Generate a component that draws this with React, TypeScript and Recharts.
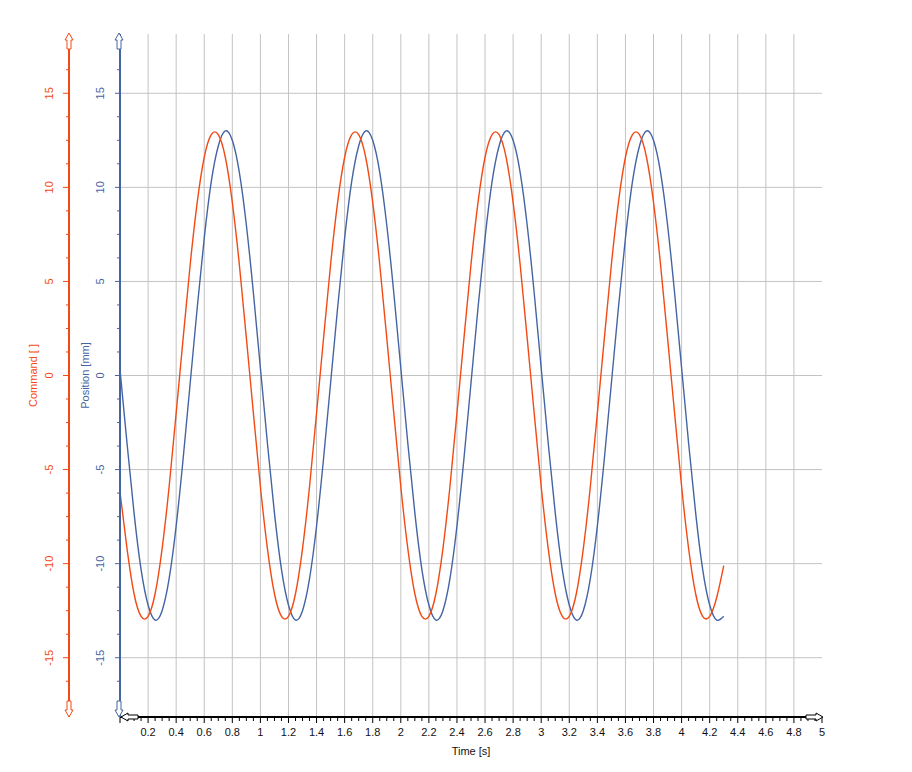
import { CartesianGrid, Line, LineChart, XAxis, YAxis } from 'recharts'

const TIME = [
  0, 0.05, 0.1, 0.15, 0.2, 0.25, 0.3, 0.35, 0.4, 0.45, 0.5, 0.55, 0.6, 0.65, 0.7, 0.75, 0.8, 0.85, 0.9, 0.95,
  1, 1.05, 1.1, 1.15, 1.2, 1.25, 1.3, 1.35, 1.4, 1.45, 1.5, 1.55, 1.6, 1.65, 1.7, 1.75, 1.8, 1.85, 1.9, 1.95,
  2, 2.05, 2.1, 2.15, 2.2, 2.25, 2.3, 2.35, 2.4, 2.45, 2.5, 2.55, 2.6, 2.65, 2.7, 2.75, 2.8, 2.85, 2.9, 2.95,
  3, 3.05, 3.1, 3.15, 3.2, 3.25, 3.3, 3.35, 3.4, 3.45, 3.5, 3.55, 3.6, 3.65, 3.7, 3.75, 3.8, 3.85, 3.9, 3.95,
  4, 4.05, 4.1, 4.15, 4.2, 4.25, 4.3,
]

const COMMAND = [
  -6.2, -9.2, -11.6, -12.8, -12.8, -11.6, -9.2, -5.9, -2.0, 2.0, 5.9, 9.2, 11.6, 12.8, 12.8, 11.6, 9.2, 5.9, 2.0, -2.0,
  -5.9, -9.2, -11.6, -12.8, -12.8, -11.6, -9.2, -5.9, -2.0, 2.0, 5.9, 9.2, 11.6, 12.8, 12.8, 11.6, 9.2, 5.9, 2.0, -2.0,
  -5.9, -9.2, -11.6, -12.8, -12.8, -11.6, -9.2, -5.9, -2.0, 2.0, 5.9, 9.2, 11.6, 12.8, 12.8, 11.6, 9.2, 5.9, 2.0, -2.0,
  -5.9, -9.2, -11.6, -12.8, -12.8, -11.6, -9.2, -5.9, -2.0, 2.0, 5.9, 9.2, 11.6, 12.8, 12.8, 11.6, 9.2, 5.9, 2.0, -2.0,
  -5.9, -9.2, -11.6, -12.8, -12.8, -11.8, -10.1,
]

const POSITION = [
  0.3, -3.6, -7.3, -10.3, -12.2, -13.0, -12.5, -10.8, -8.0, -4.4, -0.4, 3.6, 7.3, 10.3, 12.2, 13.0, 12.5, 10.8, 8.0, 4.4,
  0.4, -3.6, -7.3, -10.3, -12.2, -13.0, -12.5, -10.8, -8.0, -4.4, -0.4, 3.6, 7.3, 10.3, 12.2, 13.0, 12.5, 10.8, 8.0, 4.4,
  0.4, -3.6, -7.3, -10.3, -12.2, -13.0, -12.5, -10.8, -8.0, -4.4, -0.4, 3.6, 7.3, 10.3, 12.2, 13.0, 12.5, 10.8, 8.0, 4.4,
  0.4, -3.6, -7.3, -10.3, -12.2, -13.0, -12.5, -10.8, -8.0, -4.4, -0.4, 3.6, 7.3, 10.3, 12.2, 13.0, 12.5, 10.8, 8.0, 4.4,
  0.4, -3.6, -7.3, -10.3, -12.2, -13.0, -12.8,
]

const X_LABELS = [
  0.2, 0.4, 0.6, 0.8, 1, 1.2, 1.4, 1.6, 1.8, 2, 2.2, 2.4, 2.6, 2.8, 3, 3.2, 3.4, 3.6, 3.8, 4, 4.2, 4.4, 4.6, 4.8, 5,
]
const X_GRID = X_LABELS.filter((v) => v < 5)
const Y_LABELS = [-15, -10, -5, 0, 5, 10, 15]

// minor ticks: 0.05 s on time, 1.25 on the value axes
const X_TICKS = Array.from({ length: 101 }, (_, i) => i / 20)
const Y_TICKS = Array.from({ length: 27 }, (_, i) => -16.25 + i * 1.25)

const data = TIME.map((t, i) => ({ t, command: COMMAND[i], position: POSITION[i] }))

const W = 912
const H = 772
const MARGIN = { top: 34, right: 90, bottom: 15, left: 9 }
const CMD_AXIS_W = 60
const POS_AXIS_W = 51
const X_AXIS_H = 40
const Y_MAX = 18.15

// axis ids: the inner (position) axis must sort first
const POS_ID = 'a_pos'
const CMD_ID = 'b_cmd'

const PLOT_LEFT = MARGIN.left + CMD_AXIS_W + POS_AXIS_W
const PLOT_RIGHT = W - MARGIN.right
const PLOT_BOTTOM = H - MARGIN.bottom - X_AXIS_H
const CMD_X = MARGIN.left + CMD_AXIS_W

const ORANGE = '#F24A14'
const BLUE = '#4464A4'
const GRID = '#C3C3C3'
const FONT = '"Liberation Sans", Arial, sans-serif'

const isMajorX = (v: number) => Math.abs(v * 5 - Math.round(v * 5)) < 1e-6

function TimeTick({ x, y, payload }: any) {
  const v = payload.value as number
  const major = isMajorX(v)
  return (
    <g>
      <line x1={x} x2={x} y1={y} y2={y + (major ? 6 : 4)} stroke="#000" strokeWidth={1} />
      {major && v > 0 && (
        <text x={x} y={y + 19} textAnchor="middle" fontSize={11} fontFamily={FONT} fill="#111">
          {String(Math.round(v * 10) / 10)}
        </text>
      )}
    </g>
  )
}

function ValueTick({ x, y, payload, color, majorLen }: any) {
  const v = payload.value as number
  const major = Math.abs(v % 5) < 1e-6
  const lx = x - 20
  return (
    <g>
      <line x1={x - (major ? majorLen : 3)} x2={x} y1={y} y2={y} stroke={color} strokeWidth={1} />
      {major && (
        <text
          x={lx}
          y={y}
          transform={`rotate(-90 ${lx} ${y})`}
          textAnchor="middle"
          dominantBaseline="central"
          fontSize={11}
          fontFamily={FONT}
          fill={color}
        >
          {v}
        </text>
      )}
    </g>
  )
}

function AxisTitle({ viewBox, text, color, dx }: any) {
  const cx = viewBox.x + viewBox.width - dx
  const cy = viewBox.y + viewBox.height / 2
  return (
    <text
      x={cx}
      y={cy}
      transform={`rotate(-90 ${cx} ${cy})`}
      textAnchor="middle"
      dominantBaseline="central"
      fontSize={11}
      fontFamily={FONT}
      fill={color}
    >
      {text}
    </text>
  )
}

function TimeTitle({ viewBox }: any) {
  return (
    <text
      x={viewBox.x + viewBox.width / 2}
      y={viewBox.y + 38}
      textAnchor="middle"
      fontSize={11}
      fontFamily={FONT}
      fill="#111"
    >
      Time [s]
    </text>
  )
}

// hollow arrow heads at the axis ends
const up = (cx: number, ty: number) =>
  `${cx},${ty} ${cx + 4},${ty + 7} ${cx + 2},${ty + 7} ${cx + 2},${ty + 16} ${cx - 2},${ty + 16} ${cx - 2},${ty + 7} ${cx - 4},${ty + 7}`
const down = (cx: number, by: number) =>
  `${cx},${by} ${cx + 4},${by - 7} ${cx + 2},${by - 7} ${cx + 2},${by - 16} ${cx - 2},${by - 16} ${cx - 2},${by - 7} ${cx - 4},${by - 7}`
const right = (tx: number, cy: number) =>
  `${tx},${cy} ${tx - 7},${cy - 4} ${tx - 7},${cy - 2} ${tx - 17},${cy - 2} ${tx - 17},${cy + 2} ${tx - 7},${cy + 2} ${tx - 7},${cy + 4}`
const left = (tx: number, cy: number) =>
  `${tx},${cy} ${tx + 7},${cy - 4} ${tx + 7},${cy - 2} ${tx + 17},${cy - 2} ${tx + 17},${cy + 2} ${tx + 7},${cy + 2} ${tx + 7},${cy + 4}`

function Arrows() {
  const top = MARGIN.top - 1
  return (
    <svg width={W} height={H} style={{ position: 'absolute', left: 0, top: 0, pointerEvents: 'none' }}>
      <polygon points={up(CMD_X, top)} fill="#fff" stroke={ORANGE} />
      <polygon points={down(CMD_X, PLOT_BOTTOM)} fill="#fff" stroke={ORANGE} />
      <polygon points={up(PLOT_LEFT - 1, top)} fill="#fff" stroke={BLUE} />
      <polygon points={down(PLOT_LEFT - 1, PLOT_BOTTOM)} fill="#fff" stroke={BLUE} />
      <polygon points={left(PLOT_LEFT + 1, PLOT_BOTTOM)} fill="#fff" stroke="#000" />
      <polygon points={right(PLOT_RIGHT + 1, PLOT_BOTTOM)} fill="#fff" stroke="#000" />
    </svg>
  )
}

export default function App() {
  return (
    <div style={{ position: 'absolute', left: 0, top: 0, width: W, height: H, background: '#fff' }}>
      <LineChart width={W} height={H} data={data} margin={MARGIN}>
        <CartesianGrid
          yAxisId={POS_ID}
          stroke={GRID}
          strokeWidth={1}
          horizontalValues={Y_LABELS}
          verticalValues={X_GRID}
        />
        <XAxis
          dataKey="t"
          type="number"
          domain={[0, 5]}
          ticks={X_TICKS}
          interval={0}
          height={X_AXIS_H}
          tickSize={0}
          tickMargin={0}
          tick={(p: any) => <TimeTick {...p} />}
          axisLine={{ stroke: '#000', strokeWidth: 2 }}
          tickLine={false}
          label={<TimeTitle />}
        />
        <YAxis
          yAxisId={POS_ID}
          type="number"
          domain={[-Y_MAX, Y_MAX]}
          allowDataOverflow
          ticks={Y_TICKS}
          interval={0}
          width={POS_AXIS_W}
          tickSize={0}
          tickMargin={0}
          tickLine={false}
          tick={(p: any) => <ValueTick {...p} color={BLUE} majorLen={5} />}
          axisLine={{ stroke: BLUE, strokeWidth: 2 }}
          label={<AxisTitle text="Position [mm]" color={BLUE} dx={35} />}
        />
        <YAxis
          yAxisId={CMD_ID}
          type="number"
          domain={[-Y_MAX, Y_MAX]}
          allowDataOverflow
          ticks={Y_TICKS}
          interval={0}
          width={CMD_AXIS_W}
          tickSize={0}
          tickMargin={0}
          tickLine={false}
          tick={(p: any) => <ValueTick {...p} color={ORANGE} majorLen={6} />}
          axisLine={{ stroke: ORANGE, strokeWidth: 2 }}
          label={<AxisTitle text="Command [ ]" color={ORANGE} dx={36} />}
        />
        <Line
          yAxisId={POS_ID}
          dataKey="position"
          type="natural"
          stroke={BLUE}
          strokeWidth={1.4}
          dot={false}
          isAnimationActive={false}
        />
        <Line
          yAxisId={CMD_ID}
          dataKey="command"
          type="natural"
          stroke={ORANGE}
          strokeWidth={1.4}
          dot={false}
          isAnimationActive={false}
        />
      </LineChart>
      <Arrows />
    </div>
  )
}
